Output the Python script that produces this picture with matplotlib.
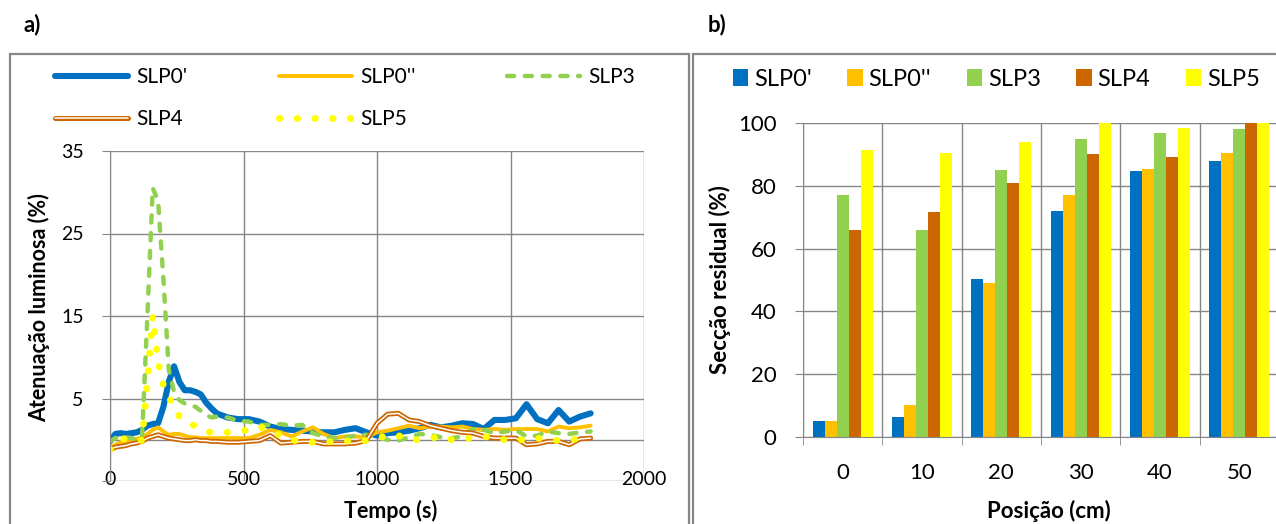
import numpy as np
import matplotlib
matplotlib.use("Agg")
import matplotlib.pyplot as plt
from matplotlib.patches import Rectangle
from matplotlib.legend_handler import HandlerTuple

plt.rcParams['font.family'] = ['Lato', 'DejaVu Sans']

# a) light attenuation over time
tempo = [0, 20, 40, 60, 80, 100, 120, 140, 160, 180, 200, 220, 240, 260, 280, 300,
         320, 340, 360, 380, 400, 440, 480, 520, 560, 600, 640, 680, 720, 760, 800,
         840, 880, 920, 960, 1000, 1040, 1080, 1120, 1160, 1200, 1240, 1280, 1320,
         1360, 1400, 1440, 1480, 1520, 1560, 1600, 1640, 1680, 1720, 1760, 1800]

slp0a = [-0.2, 0.7, 0.8, 0.7, 0.8, 0.9, 1.2, 1.7, 1.9, 2.0, 4.0, 7.0, 8.9, 7.0, 6.0, 6.0,
         5.8, 5.5, 4.5, 3.8, 3.2,
         2.7, 2.5, 2.5, 2.2, 1.6, 1.3, 1.2, 1.1, 1.0, 0.9,
         0.9, 1.2, 1.4, 0.9, 0.5, 0.8, 0.9, 1.1, 1.4, 1.8,
         1.5, 1.7, 2.0, 1.9, 1.3, 2.4, 2.4, 2.6, 4.3, 2.5,
         2.0, 3.6, 2.2, 2.8, 3.2]
slp0b = [-1.0, -0.6, -0.3, -0.2, -0.1, 0.1, 0.3, 0.7, 1.2, 1.5, 1.0, 0.6, 0.7, 0.7, 0.5, 0.3,
         0.3, 0.2, 0.2, 0.2, 0.2,
         0.2, 0.2, 0.2, 0.6, 1.2, 0.9, 0.4, 1.0, 1.5, 0.7,
         0.2, 0.4, 0.4, 0.3, 0.9, 1.1, 1.4, 1.7, 1.4, 1.6,
         1.6, 1.5, 1.6, 1.3, 1.2, 1.3, 1.2, 1.3, 1.3, 1.3,
         1.0, 1.6, 1.4, 1.5, 1.7]
slp3 = [-0.2, 0.2, 0.3, 0.3, 0.2, 0.0, 0.3, 15.0, 30.5, 29.0, 19.5, 8.5, 5.8, 4.8, 4.4, 4.2,
        4.0, 3.5, 3.0, 2.7, 2.8,
        2.7, 2.3, 2.2, 1.8, 1.8, 1.9, 1.7, 1.8, 0.8, 0.4,
        0.2, 0.3, 0.5, 0.6, 0.3, 0.0, -0.1, 0.3, 0.7, 0.6,
        0.3, 0.2, 0.4, 1.3, 1.2, 0.8, 1.0, 1.2, 0.4, 0.5,
        1.0, 0.8, 0.7, 0.9, 1.0]
slp4 = [-1.2, -0.9, -0.8, -0.7, -0.5, -0.4, -0.2, 0.2, 0.4, 0.6, 0.4, 0.2, 0.1, 0.0, -0.1, -0.1,
        0.0, -0.1, -0.1, -0.2, -0.2,
        -0.3, -0.3, -0.2, -0.1, 0.5, -0.4, -0.3, -0.2, -0.2, -0.5,
        -0.5, -0.5, -0.4, -0.1, 2.0, 3.1, 3.2, 2.4, 2.2, 1.7,
        1.4, 1.1, 0.9, 0.8, 0.4, 0.2, 0.2, 0.2, -0.6, -0.5,
        -0.2, -0.2, -0.6, 0.1, 0.2]
slp5 = [-1.2, -0.5, 0.0, 0.2, 0.1, 0.0, -0.1, 7.0, 15.0, 9.5, 6.6, 5.2, 4.0, 2.8, 2.3, 1.9,
        1.7, 1.3, 1.0, 0.9, 0.9,
        0.9, 1.0, 1.2, 1.6, 1.1, 0.5, 0.0, -0.3, -0.3, -0.3,
        -0.2, -0.1, -0.3, -0.1, 0.1, 0.6, 0.5, 0.0, 0.0, 0.2,
        0.4, 0.0, 0.0, 0.3, 0.4, 0.2, 0.0, 0.0, 0.0, 0.2,
        0.0, -0.1, 0.0, 0.1, 0.2]

# b) residual section by position
posicoes = ['0', '10', '20', '30', '40', '50']
series = ["SLP0'", "SLP0''", "SLP3", "SLP4", "SLP5"]
seccao = {
    "SLP0'": [5.2, 6.5, 50.2, 71.9, 84.6, 87.8],
    "SLP0''": [5.2, 10.3, 49.2, 77.2, 85.2, 90.6],
    "SLP3": [77.2, 65.8, 84.9, 94.8, 96.7, 98.0],
    "SLP4": [65.8, 71.6, 81.0, 90.0, 89.3, 100.0],
    "SLP5": [91.3, 90.6, 94.1, 100.0, 98.3, 100.0],
}
cores = ['#0070C0', '#FFC000', '#92D050', '#CC6600', '#FFFF00']
grid_c = '#868686'

W, H = 1276, 524
fig = plt.figure(figsize=(W / 100, H / 100), dpi=100)

def fx(px):
    return px / W

def fy(py):
    return 1 - py / H

# outer frames of both panels
for x0, x1 in [(9.5, 688.5), (692.5, 1300)]:
    fig.add_artist(Rectangle((fx(x0), -0.05), fx(x1 - x0), fy(53.5) + 0.05,
                             transform=fig.transFigure, fill=False,
                             edgecolor='#878787', lw=1.6))

fig.text(fx(23), fy(25), 'a)', fontsize=16, fontweight='bold', va='center')
fig.text(fx(708), fy(25), 'b)', fontsize=16, fontweight='bold', va='center')

# ---- panel a ----
ax = fig.add_axes([fx(110), fy(481), fx(644 - 110), fy(151) - fy(481)])
ax.set_xlim(0, 2000)
ax.set_ylim(-5, 35)
ax.set_xticks([0, 500, 1000, 1500, 2000])
ax.set_yticks([-5, 5, 15, 25, 35])
ax.set_yticklabels(['', '5', '15', '25', '35'])
ax.grid(True, color=grid_c, lw=1.0)
ax.set_axisbelow(True)
for s in ['top', 'right', 'bottom']:
    ax.spines[s].set_visible(False)
ax.spines['left'].set_color(grid_c)
ax.axhline(0, color=grid_c, lw=1.0, zorder=1)
ax.tick_params(axis='y', length=6, color=grid_c, pad=13, labelsize=14)
ax.tick_params(axis='x', length=0, pad=-7, labelsize=14)

l1, = ax.plot(tempo, slp0a, color=cores[0], lw=4.4, solid_capstyle='round',
              solid_joinstyle='round')
l2, = ax.plot(tempo, slp0b, color=cores[1], lw=2.8, solid_capstyle='round',
              solid_joinstyle='round')
l3, = ax.plot(tempo, slp3, color=cores[2], lw=3.2, ls=(0, (1.6, 2.4)),
              dash_capstyle='round', dash_joinstyle='round')
l4a, = ax.plot(tempo, slp4, color=cores[3], lw=3.6, solid_capstyle='round',
               solid_joinstyle='round')
l4b, = ax.plot(tempo, slp4, color='white', lw=1.1, solid_capstyle='round',
               solid_joinstyle='round')
l5, = ax.plot(tempo, slp5, color=cores[4], lw=5.0, ls=(0, (0.05, 2.5)),
              dash_capstyle='round')

ax.set_xlabel('Tempo (s)', fontsize=15.5, fontweight='bold')
ax.xaxis.set_label_coords(0.526, -0.058)
ax.set_ylabel('Atenuação luminosa (%)', fontsize=15.5, fontweight='bold')
ax.yaxis.set_label_coords(-0.112, 0.527)

handles = [l1, (l4a, l4b), l2, l5, l3]
labels = ["SLP0'", "SLP4", "SLP0''", "SLP5", "SLP3"]
fig.legend(handles, labels, handler_map={tuple: HandlerTuple(ndivide=1)},
           loc='upper left', bbox_to_anchor=(fx(55), fy(67)), ncol=3,
           frameon=False, fontsize=15, handlelength=3.5, handletextpad=0.4,
           columnspacing=4.4, labelspacing=1.05, borderpad=0, borderaxespad=0)

# ---- panel b ----
bx = fig.add_axes([fx(803), fy(437), fx(476), fy(123) - fy(437)])
xs = np.arange(len(posicoes))
bw = 0.151
for i, (nome, cor) in enumerate(zip(series, cores)):
    bx.bar(xs + (i - 2) * bw, seccao[nome], width=bw, color=cor, label=nome, zorder=2)
bx.set_xlim(-0.5, 5.5)
bx.set_ylim(0, 100)
bx.set_yticks([0, 20, 40, 60, 80, 100])
bx.set_xticks(xs)
bx.set_xticklabels(posicoes)
bx.set_xticks(np.arange(-0.5, 6, 1.0), minor=True)
bx.grid(True, axis='y', color=grid_c, lw=1.0)
bx.grid(True, axis='x', which='minor', color=grid_c, lw=1.0)
bx.set_axisbelow(True)
for s in ['top', 'right']:
    bx.spines[s].set_visible(False)
bx.spines['left'].set_color(grid_c)
bx.spines['bottom'].set_color(grid_c)
bx.tick_params(axis='y', length=6, color=grid_c, pad=13, labelsize=16)
bx.tick_params(axis='x', which='major', length=0, pad=19, labelsize=16)
bx.tick_params(axis='x', which='minor', length=6, color=grid_c)
bx.set_xlabel('Posição (cm)', fontsize=16, fontweight='bold')
bx.xaxis.set_label_coords(0.517, -0.2)
bx.set_ylabel('Secção residual (%)', fontsize=16, fontweight='bold')
bx.yaxis.set_label_coords(-0.152, 0.5)

fig.legend(*bx.get_legend_handles_labels(), loc='center left',
           bbox_to_anchor=(fx(733), fy(79)), ncol=5, frameon=False, fontsize=17,
           handlelength=0.65, handleheight=0.7, handletextpad=0.25,
           columnspacing=1.5, borderpad=0, borderaxespad=0)

fig.savefig('out.png', dpi=100)
